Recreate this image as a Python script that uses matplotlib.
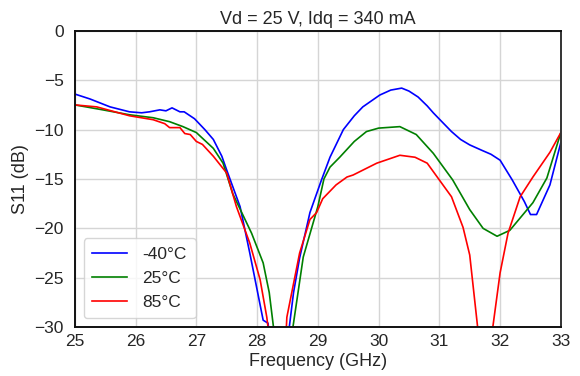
import matplotlib
matplotlib.use("Agg")
import matplotlib.pyplot as plt

plt.rcParams['font.family'] = ['Liberation Sans', 'DejaVu Sans']

f_m40 = [25.0, 25.25, 25.58, 25.9, 26.1, 26.23, 26.4, 26.5, 26.6, 26.73, 26.8, 26.97,
         27.14, 27.28, 27.42, 27.5, 27.72, 27.88, 28.1, 28.18, 28.3, 28.45, 28.6, 28.7,
         28.87, 29.06, 29.2, 29.42, 29.6, 29.74, 30.02, 30.2, 30.38, 30.5, 30.65, 30.8,
         30.9, 31.01, 31.2, 31.35, 31.5, 31.7, 31.85, 32.0, 32.2, 32.4, 32.5, 32.6,
         32.82, 33.0]
s_m40 = [-6.4, -6.9, -7.7, -8.2, -8.3, -8.2, -8.0, -8.1, -7.8, -8.2, -8.2, -8.9,
         -10.0, -11.0, -12.7, -14.1, -17.8, -22.5, -29.3, -29.6, -36, -34, -26.5, -23.0,
         -18.4, -15.1, -12.8, -10.0, -8.6, -7.7, -6.5, -6.0, -5.8, -6.1, -6.7, -7.6,
         -8.3, -9.0, -10.2, -11.0, -11.55, -12.1, -12.5, -13.1, -15.1, -17.3, -18.6, -18.6,
         -15.6, -11.3]

f_25 = [25.0, 25.46, 25.9, 26.29, 26.56, 26.78, 27.0, 27.28, 27.44, 27.6, 27.91, 28.1,
        28.2, 28.27, 28.4, 28.55, 28.59, 28.76, 29.0, 29.1, 29.2, 29.36, 29.6, 29.8,
        30.0, 30.35, 30.62, 30.9, 31.22, 31.5, 31.72, 31.95, 32.16, 32.54, 32.77, 33.0]
s_25 = [-7.5, -8.0, -8.5, -8.8, -9.2, -9.7, -10.3, -11.9, -13.4, -16.5, -20.5, -23.5,
        -26.5, -30, -36, -33, -30, -22.9, -17.8, -15.0, -13.8, -12.8, -11.2, -10.2,
        -9.85, -9.7, -10.5, -12.4, -15.1, -18.1, -20.0, -20.8, -20.2, -17.4, -14.9, -10.3]

f_85 = [25.0, 25.36, 25.9, 26.29, 26.48, 26.56, 26.73, 26.81, 26.9, 27.0, 27.1, 27.28,
        27.5, 27.66, 27.88, 28.05, 28.16, 28.3, 28.45, 28.49, 28.7, 28.87, 28.98, 29.08,
        29.3, 29.48, 29.58, 29.97, 30.35, 30.6, 30.8, 31.0, 31.2, 31.39, 31.5, 31.63,
        31.75, 31.88, 32.0, 32.13, 32.33, 32.54, 32.82, 33.0]
s_85 = [-7.5, -7.7, -8.6, -9.0, -9.4, -9.8, -9.8, -10.4, -10.5, -11.2, -11.5, -12.7,
        -14.4, -17.8, -21.5, -25.2, -29, -36, -34, -29, -22.5, -19.1, -18.4, -17.0,
        -15.6, -14.8, -14.6, -13.4, -12.6, -12.8, -13.4, -15.1, -16.8, -19.9, -22.7, -30,
        -38, -30, -24.5, -20.5, -16.8, -14.8, -12.3, -10.3]

fig = plt.figure(figsize=(5.8, 3.76), dpi=100)
ax = fig.add_axes([0.129, 0.130, 0.838, 0.788])

ax.plot(f_m40, s_m40, color="blue", linewidth=1.2, label="-40°C")
ax.plot(f_25, s_25, color="green", linewidth=1.2, label="25°C")
ax.plot(f_85, s_85, color="red", linewidth=1.2, label="85°C")

ax.set_xlim(25, 33)
ax.set_ylim(-30, 0)
ax.set_xticks(range(25, 34))
ax.set_yticks(range(-30, 1, 5))
ax.grid(True, color="#d5d5d5", linewidth=1)
ax.set_axisbelow(True)
for s in ax.spines.values():
    s.set_color("#111111")
    s.set_linewidth(1.4)
ax.spines["right"].set_color("#333333")
ax.tick_params(labelsize=12.5, colors="#262626", length=0)
ax.tick_params(axis="y", pad=8)
ax.tick_params(axis="x", pad=5)

ax.set_xlabel("Frequency (GHz)", fontsize=13, color="#262626", labelpad=3)
ax.set_ylabel("S11 (dB)", fontsize=13, color="#262626", labelpad=4)
ax.set_title("Vd = 25 V, Idq = 340 mA", fontsize=13, color="#262626", pad=5)

leg = ax.legend(loc="lower left", fontsize=12.5, frameon=True, fancybox=True,
                borderpad=0.5, handlelength=2.0, handletextpad=0.9)
for t in leg.get_texts():
    t.set_color("#262626")

fig.savefig("out.png", dpi=100)
